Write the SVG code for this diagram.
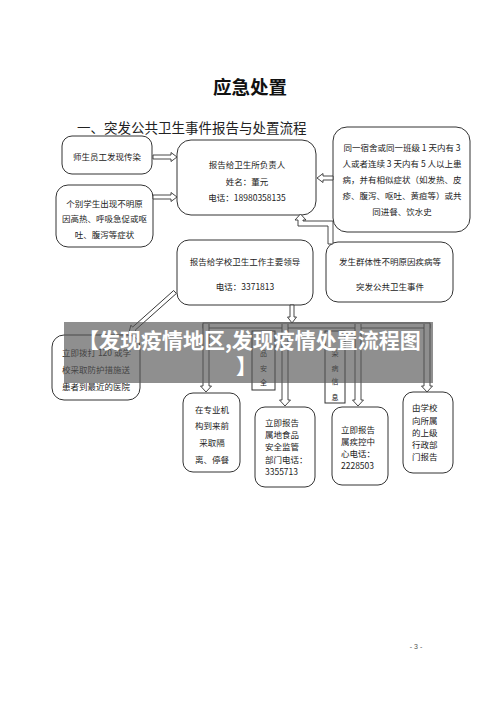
<svg xmlns="http://www.w3.org/2000/svg" width="500" height="707" viewBox="0 0 500 707">
<style>
  .box{fill:#fff;stroke:#333;stroke-width:1}
  .t{font-family:"Noto Sans CJK SC","Liberation Sans",sans-serif;font-size:8.5px;fill:#222}
  .c{text-anchor:middle}
  .v{font-family:"Noto Sans CJK SC","Liberation Sans",sans-serif;font-size:7px;fill:#222;text-anchor:middle}
  .arr{fill:#fff;stroke:#333;stroke-width:0.9;stroke-linejoin:miter}
</style>
<rect width="500" height="707" fill="#fff"/>
<text x="250" y="94" text-anchor="middle" font-family="'Noto Sans CJK SC',sans-serif" font-weight="bold" font-size="18.5" fill="#111">应急处置</text>
<text x="77" y="133" font-family="'Noto Sans CJK SC',sans-serif" font-size="13.5" fill="#222">一、突发公共卫生事件报告与处置流程</text>

<g id="n1"><rect class="box" x="62" y="136" width="90" height="38" rx="10"/>
<text class="t c" x="107" y="160">师生员工发现传染</text></g>
<g id="n2"><rect class="box" x="56" y="185" width="97" height="62" rx="12"/>
<text class="t c" x="104.5" y="207">个别学生出现不明原</text>
<text class="t c" x="104.5" y="222">因高热、呼吸急促或呕</text>
<text class="t c" x="104.5" y="238">吐、腹泻等症状</text></g>
<g id="n3"><rect class="box" x="177" y="140" width="139" height="75" rx="14"/>
<text class="t c" x="247" y="168">报告给卫生所负责人</text>
<text class="t c" x="247" y="185">姓名：董元</text>
<text class="t c" x="247" y="201">电话：18980358135</text></g>
<g id="n4"><rect class="box" x="333" y="127" width="137" height="105" rx="14"/>
<text class="t c" x="402" y="151">同一宿舍或同一班级 1 天内有 3</text>
<text class="t c" x="402" y="167">人或者连续 3 天内有 5 人以上患</text>
<text class="t c" x="402" y="183">病，并有相似症状（如发热、皮</text>
<text class="t c" x="402" y="199">疹、腹泻、呕吐、黄疸等）或共</text>
<text class="t c" x="402" y="215">同进餐、饮水史</text></g>
<g id="n5"><rect class="box" x="177" y="240" width="136" height="65" rx="12"/>
<text class="t c" x="245" y="265">报告给学校卫生工作主要领导</text>
<text class="t c" x="245" y="290">电话：3371813</text></g>
<g id="n6"><rect class="box" x="326" y="242" width="127" height="60" rx="12"/>
<text class="t c" x="390" y="265">发生群体性不明原因疾病等</text>
<text class="t c" x="390" y="290">突发公共卫生事件</text></g>
<g id="n7"><rect class="box" x="52" y="335" width="88" height="65" rx="12"/>
<text class="t" x="62" y="356">立即拨打 120 或学</text>
<text class="t" x="62" y="373">校采取防护措施送</text>
<text class="t" x="62" y="390">患者到最近的医院</text></g>
<g id="n8"><rect class="box" x="183" y="393" width="57" height="79" rx="10"/>
<text class="t c" x="212" y="413">在专业机</text>
<text class="t c" x="212" y="429">构到来前</text>
<text class="t c" x="212" y="446">采取隔</text>
<text class="t c" x="212" y="463">离、停餐</text></g>
<g id="n9"><rect class="box" x="255" y="407" width="60" height="80" rx="10"/>
<text class="t" x="265" y="426">立即报告</text>
<text class="t" x="265" y="438">属地食品</text>
<text class="t" x="265" y="450">安全监管</text>
<text class="t" x="265" y="463">部门电话：</text>
<text class="t" x="265" y="475">3355713</text></g>
<g id="n10"><rect class="box" x="332" y="407" width="56" height="78" rx="10"/>
<text class="t" x="341" y="433">立即报告</text>
<text class="t" x="341" y="445">属疾控中</text>
<text class="t" x="341" y="457">心电话：</text>
<text class="t" x="341" y="469">2228503</text></g>
<g id="n11"><rect class="box" x="403" y="392" width="50" height="81" rx="10"/>
<text class="t" x="412" y="411">由学校</text>
<text class="t" x="412" y="424">向所属</text>
<text class="t" x="412" y="436">的上级</text>
<text class="t" x="412" y="448">行政部</text>
<text class="t" x="412" y="460">门报告</text></g>

<g id="connectors">
  <polygon class="arr" points="153,155 171,155 171,152.5 177,157 171,161.5 171,159 153,159"/>
  <polygon class="arr" points="153,195 171,195 171,192.5 177,197 171,201.5 171,199 153,199"/>
  <polygon class="arr" points="333,176 323,176 323,173.5 317,178 323,182.5 323,180 333,180"/>
  <polygon class="arr" points="333,244 333,221 303,221 303,220 306,220 300.5,214 295,220 298,220 298,226 328,226 328,244"/>
  <polygon class="arr" points="290,305 290,317 287.5,317 292,323 296.5,317 294,317 294,305"/>
  <polygon class="arr" transform="translate(175,292) rotate(138.3)" points="0,-2 55,-2 55,-4.5 62,0 55,4.5 55,2 0,2"/>
  <rect class="arr" x="203" y="323" width="227" height="5"/>
  <path class="arr" d="M203,324 V386 H200.5 L206,392 L211.5,386 H209 V324"/>
  <path class="arr" d="M430,324 V386 H432.5 L427,392 L421.5,386 H424 V324"/>
  <path class="arr" d="M282,324 V400 H279.5 L285,406 L290.5,400 H288 V324"/>
  <path class="arr" d="M355,324 V400 H352.5 L358,406 L363.5,400 H361 V324"/>
  <rect class="box" x="252" y="331" width="23" height="59"/>
  <text class="v" x="263.5" y="356">品</text>
  <text class="v" x="263.5" y="371">安</text>
  <text class="v" x="263.5" y="385">全</text>
  <rect class="box" x="325" y="331" width="20" height="72"/>
  <text class="v" x="335" y="356">染</text>
  <text class="v" x="335" y="371">病</text>
  <text class="v" x="335" y="384">信</text>
  <text class="v" x="335" y="400">息</text>
</g>

<rect x="64" y="322" width="369" height="61" fill="#555" fill-opacity="0.66"/>
<text x="78" y="348" font-family="'Noto Sans CJK SC',sans-serif" font-weight="bold" font-size="21" fill="#fff">【发现疫情地区,发现疫情处置流程图</text>
<text x="236" y="374" font-family="'Noto Sans CJK SC',sans-serif" font-weight="bold" font-size="21" fill="#fff">】</text>

<text x="416" y="649" text-anchor="middle" font-family="'Liberation Sans',sans-serif" font-size="7" fill="#555">- 3 -</text>
</svg>
